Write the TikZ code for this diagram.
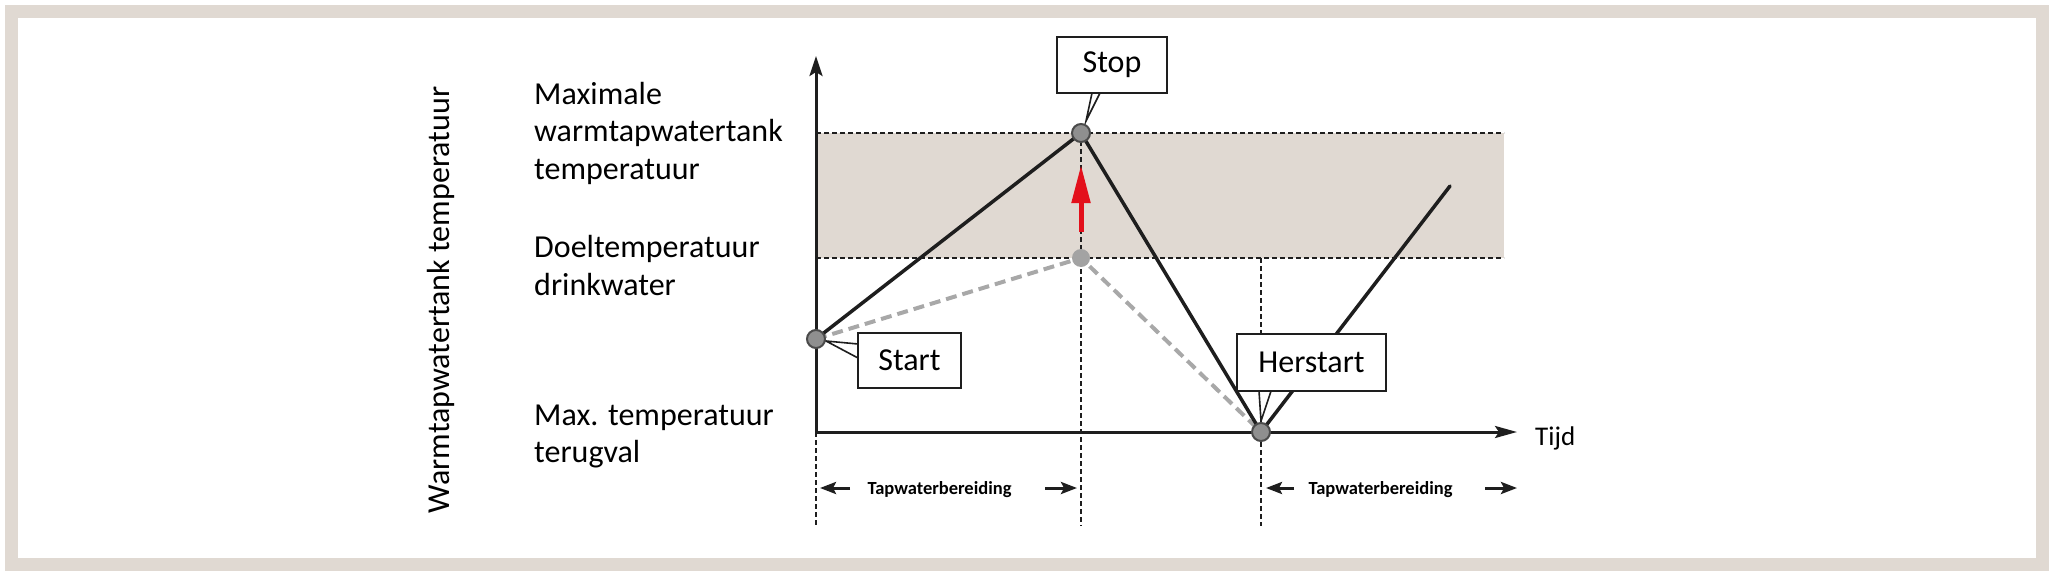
\documentclass[tikz,border=0pt]{standalone}
\usepackage{fontspec}
\setmainfont{Carlito}
\usetikzlibrary{arrows.meta}
\definecolor{beige}{HTML}{E0D9D2}
\definecolor{ptgrey}{HTML}{8F8F8F}
\definecolor{ghostgrey}{HTML}{A3A3A3}
\definecolor{dashgrey}{HTML}{A8A8A8}
\definecolor{arrred}{HTML}{E3101B}
\definecolor{ink}{HTML}{1E1E1E}
\begin{document}
\begin{tikzpicture}[x=1pt,y=-1pt,
  lbl/.style={anchor=base west,inner sep=0,font=\fontsize{32}{37}\selectfont},
  boxlbl/.style={draw=ink,line width=2.5,fill=white,inner sep=0,font=\fontsize{32}{37}\selectfont},
  tapw/.style={anchor=base,inner sep=0,font=\fontsize{18.5}{20}\selectfont\bfseries},
  dotline/.style={ink,line width=2.6,dash pattern=on 5 off 3},
  ghostline/.style={dashgrey,line width=4,dash pattern=on 11 off 6},
  curve/.style={ink,line width=3.5,line cap=round},
  axisline/.style={ink,line width=3},
  smallarr/.style={ink,line width=3,-{Stealth[length=16pt,width=12pt,inset=3pt]}},
  pt/.style={circle,fill=ptgrey,draw=ink!80,line width=2,minimum size=18pt,inner sep=0},
  ghostpt/.style={circle,fill=ghostgrey,minimum size=18pt,inner sep=0},
  callout/.style={draw=ink,line width=1.6,fill=white,line join=miter}]
\useasboundingbox (0,0) rectangle (2060,583);
% frame
\draw[beige,line width=13] (11.5,12) rectangle (2042.5,564.5);

% key coordinates
\coordinate (O) at (816,432);
\coordinate (S) at (816,339);
\coordinate (T) at (1081,133);
\coordinate (G) at (1081,258);
\coordinate (H) at (1261,432);
\coordinate (E) at (1450,186);
\coordinate (YT) at (816,56);
\coordinate (XT) at (1517,432);
\coordinate (bandL1) at (816,133);
\coordinate (bandR1) at (1504,133);
\coordinate (bandL2) at (816,258);
\coordinate (bandR2) at (1504,258);
\coordinate (v1b) at (816,526);
\coordinate (v2b) at (1081,526);
\coordinate (v3t) at (1261,258);
\coordinate (v3b) at (1261,526);

% band
\fill[beige] (bandL1) rectangle (bandR2);
\draw[dotline] (bandL1) -- (bandR1);
\draw[dotline] (bandL2) -- (bandR2);
\draw[dotline] (O) -- (v1b);
\draw[dotline] (T) -- (v2b);
\draw[dotline] (v3t) -- (v3b);

% ghost (target) curve
\draw[ghostline] (S) -- (G) -- (H);

% actual curve
\draw[curve] (S) -- (T) -- (H) -- (E);

% axes
\draw[axisline,-{Stealth[length=20pt,width=13pt,inset=4pt]}] (O) -- (YT);
\draw[axisline,-{Stealth[length=22pt,width=12pt,inset=4pt]}] (O) -- (XT);

% red arrow
\coordinate (ra1) at (1081,232);
\coordinate (ra2) at (1081,165);
\draw[arrred,line width=5,-{Triangle[length=38pt,width=18pt]}] (ra1) -- (ra2);

% callout pointers
\draw[callout] (1092,93) -- (1086,121) -- (1100,93);
\draw[callout] (858,344) -- (826,341) -- (858,358);
\draw[callout] (1259,391) -- (1261,421) -- (1271,391);

% points
\node[pt] (pS) at (S) {};
\node[pt] (pT) at (T) {};
\node[ghostpt] (pG) at (G) {};
\node[pt] (pH) at (H) {};

% boxes
\node[boxlbl,minimum width=110pt,minimum height=56pt] (bStop) at (1112,65) {Stop};
\node[boxlbl,minimum width=103pt,minimum height=55pt] (bStart) at (909.5,360.5) {Start};
\node[boxlbl,minimum width=149pt,minimum height=57pt] (bHer) at (1311.5,362.5) {Herstart};

% left labels
\node[lbl] (l1) at (534,105) {Maximale};
\node[lbl] (l2) at (534,142) {warmtapwatertank};
\node[lbl] (l3) at (534,179) {temperatuur};
\node[lbl] (l4) at (534,257) {Doeltemperatuur};
\node[lbl] (l5) at (534,295) {drinkwater};
\node[lbl] (l6) at (534,425) {Max. temperatuur};
\node[lbl] (l7) at (534,462) {terugval};

% axis titles
\node[anchor=base,inner sep=0,rotate=90,font=\fontsize{32}{37}\selectfont] (ylab) at (449,300) {Warmtapwatertank temperatuur};
\node[anchor=base west,inner sep=0,font=\fontsize{27}{30}\selectfont] (xlab) at (1535,445) {Tijd};

% phase labels
\node[tapw] (tw1) at (939.5,494) {Tapwaterbereiding};
\node[tapw] (tw2) at (1380.5,494) {Tapwaterbereiding};
\coordinate (a1s) at (850,488); \coordinate (a1e) at (820,488);
\coordinate (a2s) at (1045,488); \coordinate (a2e) at (1077,488);
\coordinate (a3s) at (1294,488); \coordinate (a3e) at (1266,488);
\coordinate (a4s) at (1485,488); \coordinate (a4e) at (1517,488);
\draw[smallarr] (a1s) -- (a1e);
\draw[smallarr] (a2s) -- (a2e);
\draw[smallarr] (a3s) -- (a3e);
\draw[smallarr] (a4s) -- (a4e);
\end{tikzpicture}
\end{document}
